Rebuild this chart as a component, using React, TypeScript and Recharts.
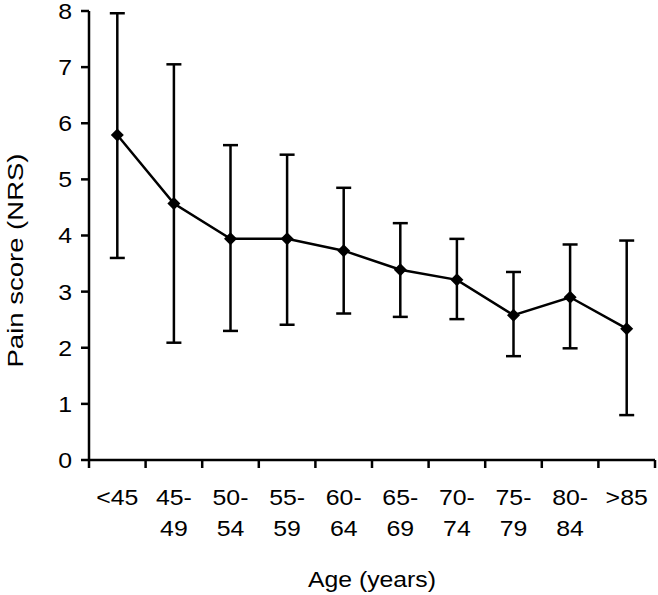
import { ComposedChart, Line, XAxis, YAxis, ErrorBar } from 'recharts'

const ageGroups = ['<45', '45-\n49', '50-\n54', '55-\n59', '60-\n64', '65-\n69', '70-\n74', '75-\n79', '80-\n84', '>85']
const meanScore = [5.79, 4.57, 3.94, 3.94, 3.73, 3.39, 3.21, 2.58, 2.9, 2.34]
const upperScore = [7.96, 7.05, 5.61, 5.44, 4.85, 4.22, 3.94, 3.35, 3.84, 3.91]
const lowerScore = [3.6, 2.09, 2.3, 2.41, 2.61, 2.55, 2.51, 1.85, 1.99, 0.8]
const yTicks = [0, 1, 2, 3, 4, 5, 6, 7, 8]

const data = ageGroups.map((age, i) => ({
  age,
  mean: meanScore[i],
  err: [meanScore[i] - lowerScore[i], upperScore[i] - meanScore[i]],
}))

const FONT = '"Liberation Sans", Arial, sans-serif'
const SW = 2.5

function AgeTick(props: any) {
  const { x, y, payload, index, visibleTicksCount } = props
  const half = payload.offset ?? 0
  const lines = String(payload.value).split('\n')
  return (
    <g>
      <line x1={x - half} x2={x - half} y1={y} y2={y + 8} stroke="#000" strokeWidth={SW} />
      {index === visibleTicksCount - 1 && (
        <line x1={x + half} x2={x + half} y1={y} y2={y + 8} stroke="#000" strokeWidth={SW} />
      )}
      {lines.map((t, i) => (
        <text
          key={i}
          transform={`translate(${x},${y + 45 + i * 31}) scale(1.13,1)`}
          textAnchor="middle"
          fontSize={22}
          fontFamily={FONT}
          fill="#000"
        >
          {t}
        </text>
      ))}
    </g>
  )
}

function ScoreTick(props: any) {
  const { x, y, payload } = props
  return (
    <text
      transform={`translate(${x},${y}) scale(1.13,1)`}
      dy="0.36em"
      textAnchor="end"
      fontSize={22}
      fontFamily={FONT}
      fill="#000"
    >
      {payload.value}
    </text>
  )
}

function Diamond(props: any) {
  const { cx, cy } = props
  if (cx == null || cy == null) return null
  const r = 6.5
  return <polygon points={`${cx},${cy - r} ${cx + r},${cy} ${cx},${cy + r} ${cx - r},${cy}`} fill="#000" />
}

function XTitle(props: any) {
  const { x, y, width } = props.viewBox
  return (
    <text x={x + width / 2} y={y + 127} textAnchor="middle" fontSize={22} fontFamily={FONT} textLength={128} lengthAdjust="spacingAndGlyphs" fill="#000">
      Age (years)
    </text>
  )
}

function YTitle(props: any) {
  const { y, height } = props.viewBox
  const cy = y + height / 2 + 25
  return (
    <text
      transform={`translate(23,${cy}) rotate(-90)`}
      textAnchor="middle"
      fontSize={22}
      fontFamily={FONT}
      textLength={214}
      lengthAdjust="spacingAndGlyphs"
      fill="#000"
    >
      Pain score (NRS)
    </text>
  )
}

export default function App() {
  return (
    <div style={{ width: 658, height: 595, background: '#fff' }}>
      <style>{'body{margin:0} .recharts-errorBar line{stroke-width:2.5px;stroke:#000}'}</style>
      <ComposedChart width={658} height={595} data={data} margin={{ top: 11, right: 3, bottom: 0, left: 0 }}>
        <XAxis
          dataKey="age"
          scale="band"
          interval={0}
          height={135}
          tickSize={0}
          tickMargin={0}
          tickLine={false}
          axisLine={{ stroke: '#000', strokeWidth: SW }}
          tick={<AgeTick />}
          label={<XTitle />}
        />
        <YAxis
          domain={[0, 8]}
          ticks={yTicks}
          interval={0}
          width={89}
          tickSize={8}
          tickMargin={9}
          tickLine={{ stroke: '#000', strokeWidth: SW }}
          axisLine={{ stroke: '#000', strokeWidth: SW }}
          tick={<ScoreTick />}
          label={<YTitle />}
        />
        <Line
          type="linear"
          dataKey="mean"
          stroke="#000"
          strokeWidth={SW}
          dot={<Diamond />}
          activeDot={false}
          isAnimationActive={false}
        >
          <ErrorBar dataKey="err" direction="y" width={7.5} stroke="#000" strokeWidth={SW} isAnimationActive={false} />
        </Line>
      </ComposedChart>
    </div>
  )
}
